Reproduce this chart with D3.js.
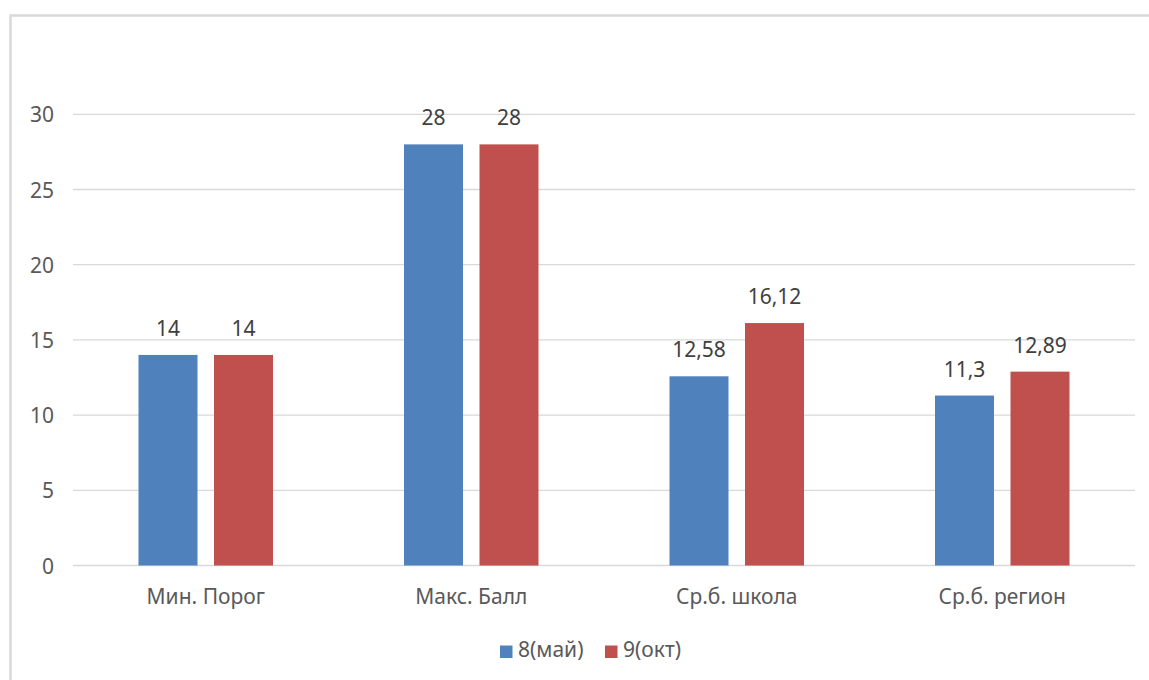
<!DOCTYPE html>
<html><head><meta charset="utf-8">
<script src="https://cdn.jsdelivr.net/npm/d3@7"></script>
<style>
html,body{margin:0;padding:0;background:#fff;}
svg{display:block;font-family:"Noto Sans","Open Sans",sans-serif;}
</style></head>
<body>
<script>
const categories = ["Мин. Порог", "Макс. Балл", "Ср.б. школа", "Ср.б. регион"];
const seriesNames = ["8(май)", "9(окт)"];
const may = [14, 28, 12.58, 11.3];
const oct = [14, 28, 16.12, 12.89];
const yTicks = [0, 5, 10, 15, 20, 25, 30];
const colors = ["#4f81bd", "#c0504d"];

const W = 1149, H = 680;
const FS = "21px";
const svg = d3.select("body").append("svg").attr("width", W).attr("height", H);

// frame
svg.append("rect").attr("x", 10.5).attr("y", 15.5).attr("width", W + 20).attr("height", H + 20)
  .attr("fill", "none").attr("stroke", "#d9d9d9").attr("stroke-width", 2.5);

const mLeft = 73, mRight = 1135, mTop = 114.3, mBottom = 565.5;
const x = d3.scaleBand().domain(categories).range([mLeft, mRight]);
const y = d3.scaleLinear().domain([0, 30]).range([mBottom, mTop]);

// gridlines
svg.append("g").selectAll("line").data(yTicks).join("line")
  .attr("x1", mLeft).attr("x2", mRight)
  .attr("y1", d => y(d)).attr("y2", d => y(d))
  .attr("stroke", "#d9d9d9").attr("stroke-width", 1.3);

// y axis labels
const yAxis = d3.axisLeft(y).tickValues(yTicks).tickSize(0).tickPadding(0);
const gy = svg.append("g").attr("transform", `translate(54,0)`).call(yAxis);
gy.select(".domain").remove();
gy.selectAll("text").attr("fill", "#595959").attr("dy", "0.36em")
  .style("font-size", FS).style("font-family", "Noto Sans");

// x axis labels
const xAxis = d3.axisBottom(x).tickSize(0).tickPadding(0);
const gx = svg.append("g").attr("transform", `translate(0,604)`).call(xAxis);
gx.select(".domain").remove();
gx.selectAll("text").attr("fill", "#595959").attr("dy", "0")
  .style("font-size", FS).style("font-family", "Noto Sans");

const barW = 59, gap = 16.5;
const series = [may, oct];
const fmt = v => String(v).replace(".", ",");

series.forEach((vals, si) => {
  const off = si === 0 ? -(gap / 2 + barW) : gap / 2;
  const g = svg.append("g");
  g.selectAll("rect").data(categories).join("rect")
    .attr("x", c => x(c) + x.bandwidth() / 2 + off)
    .attr("width", barW)
    .attr("y", (c, i) => y(vals[i]))
    .attr("height", (c, i) => y(0) - y(vals[i]))
    .attr("fill", colors[si]);
  g.selectAll("text").data(categories).join("text")
    .attr("x", c => x(c) + x.bandwidth() / 2 + off + barW / 2)
    .attr("y", (c, i) => y(vals[i]) - 19)
    .attr("text-anchor", "middle")
    .attr("fill", "#404040")
    .style("font-size", FS)
    .text((c, i) => fmt(vals[i]));
});

// legend
const legX = [500, 605];
const lg = svg.append("g");
seriesNames.forEach((n, i) => {
  lg.append("rect").attr("x", legX[i]).attr("y", 645.5).attr("width", 12.5).attr("height", 12.5).attr("fill", colors[i]);
  lg.append("text").attr("x", legX[i] + 18).attr("y", 657).attr("fill", "#595959")
    .style("font-size", FS).text(n);
});
</script>
</body></html>
